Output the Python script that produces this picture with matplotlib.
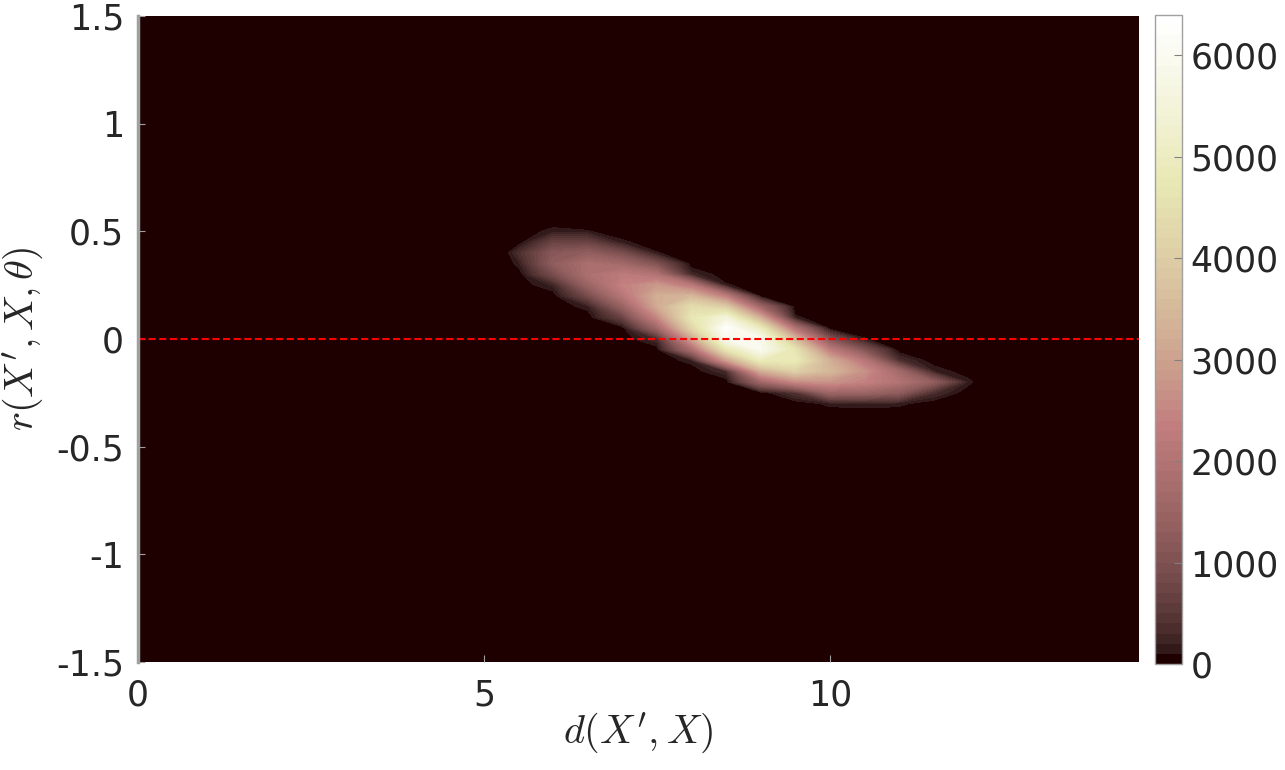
import numpy as np
import matplotlib
import matplotlib.pyplot as plt
from matplotlib.colors import Normalize
from matplotlib.cm import ScalarMappable

plt.rcParams['mathtext.fontset'] = 'cm'

# histogram bin centres
d_vals = [5.3, 5.5, 6.0, 6.5, 7.0, 7.5, 8.0, 8.5, 9.0, 9.5, 10.0, 10.5, 11.0, 11.5, 12.0, 12.2]
r_vals = [0.60, 0.55, 0.50, 0.45, 0.40, 0.35, 0.30, 0.25, 0.20, 0.15, 0.10,
          0.05, 0.00, -0.05, -0.10, -0.15, -0.20, -0.25, -0.30, -0.35, -0.40]

# counts, one list per d column (top r -> bottom r)
col_5_3 = [0, 0, 0, 0, 0, 0, 0, 0, 0, 0, 0, 0, 0, 0, 0, 0, 0, 0, 0, 0, 0]
col_5_5 = [0, 0, 0, 0, 350, 150, 0, 0, 0, 0, 0, 0, 0, 0, 0, 0, 0, 0, 0, 0, 0]
col_6_0 = [0, 0, 150, 680, 1140, 1280, 880, 220, 0, 0, 0, 0, 0, 0, 0, 0, 0, 0, 0, 0, 0]
col_6_5 = [0, 0, 110, 680, 1310, 1800, 1860, 1450, 840, 150, 0, 0, 0, 0, 0, 0, 0, 0, 0, 0, 0]
col_7_0 = [0, 0, 0, 130, 910, 1610, 2210, 2390, 2060, 1400, 680, 0, 0, 0, 0, 0, 0, 0, 0, 0, 0]
col_7_5 = [0, 0, 0, 0, 110, 990, 1910, 2800, 3260, 3140, 2460, 1520, 300, 0, 0, 0, 0, 0, 0, 0, 0]
col_8_0 = [0, 0, 0, 0, 0, 0, 250, 2120, 3430, 4390, 4680, 4140, 2960, 1740, 150, 0, 0, 0, 0, 0, 0]
col_8_5 = [0, 0, 0, 0, 0, 0, 0, 120, 2200, 3900, 5480, 6300, 5920, 4600, 2840, 300, 0, 0, 0, 0, 0]
col_9_0 = [0, 0, 0, 0, 0, 0, 0, 0, 0, 1530, 3170, 4880, 5950, 5950, 4880, 3170, 1530, 0, 0, 0, 0]
col_9_5 = [0, 0, 0, 0, 0, 0, 0, 0, 0, 0, 125, 1910, 3430, 4610, 4830, 4020, 2500, 400, 0, 0, 0]
col_10_0 = [0, 0, 0, 0, 0, 0, 0, 0, 0, 0, 0, 0, 1050, 2240, 3260, 3450, 2700, 1510, 140, 0, 0]
col_10_5 = [0, 0, 0, 0, 0, 0, 0, 0, 0, 0, 0, 0, 110, 1050, 2080, 2670, 2400, 1490, 170, 0, 0]
col_11_0 = [0, 0, 0, 0, 0, 0, 0, 0, 0, 0, 0, 0, 0, 0, 360, 1640, 1970, 1240, 140, 0, 0]
col_11_5 = [0, 0, 0, 0, 0, 0, 0, 0, 0, 0, 0, 0, 0, 0, 0, 200, 1300, 330, 0, 0, 0]
col_12_0 = [0, 0, 0, 0, 0, 0, 0, 0, 0, 0, 0, 0, 0, 0, 0, 0, 150, 0, 0, 0, 0]
col_12_2 = [0, 0, 0, 0, 0, 0, 0, 0, 0, 0, 0, 0, 0, 0, 0, 0, 0, 0, 0, 0, 0]

counts = np.array([col_5_3, col_5_5, col_6_0, col_6_5, col_7_0, col_7_5, col_8_0,
                   col_8_5, col_9_0, col_9_5, col_10_0, col_10_5, col_11_0,
                   col_11_5, col_12_0, col_12_2]).T

cbar_ticks = [0, 1000, 2000, 3000, 4000, 5000, 6000]
vmax = 6400

cmap = plt.get_cmap('pink', 64)
norm = Normalize(vmin=0, vmax=vmax)

fig = plt.figure(figsize=(12.85, 7.7), dpi=100)
ax = fig.add_axes([0.1074, 0.1403, 0.779, 0.839])
ax.set_facecolor(cmap(0))

levels = np.linspace(0, vmax, 65)
ax.contourf(d_vals, r_vals, counts, levels=levels, cmap=cmap, norm=norm)
ax.axhline(0, color='red', lw=1.5, dashes=(3.4, 1.7))

ax.set_xlim(0, 14.47)
ax.set_ylim(-1.5, 1.5)
ax.set_xticks([0, 5, 10])
ax.set_yticks([-1.5, -1, -0.5, 0, 0.5, 1, 1.5])
ax.set_yticklabels(['-1.5', '-1', '-0.5', '0', '0.5', '1', '1.5'])
ax.tick_params(direction='in', length=5, width=0.8, color='#a0a0a0',
               labelsize=25, labelcolor='#262626')
ax.tick_params(axis='y', pad=10)
ax.tick_params(axis='x', pad=12)
for s in ['top', 'right', 'bottom']:
    ax.spines[s].set_visible(False)
ax.spines['left'].set_color('#a0a0a0')
ax.spines['left'].set_linewidth(2.5)

ax.set_xlabel(r'$d(X^{\prime},X)$', fontsize=29, color='#262626', labelpad=-2)
ax.set_ylabel(r'$r(X^{\prime},X,\theta)$', fontsize=29, color='#262626', labelpad=8)

cax = fig.add_axes([0.8988, 0.1377, 0.021, 0.843])
cb = fig.colorbar(ScalarMappable(norm=norm, cmap=cmap), cax=cax, ticks=cbar_ticks)
cb.outline.set_edgecolor('#a0a0a0')
cb.outline.set_linewidth(1)
cax.tick_params(direction='in', length=6, width=0.8, color='#808080',
                labelsize=25, labelcolor='#262626', pad=6)

plt.savefig('out.png', dpi=100)
